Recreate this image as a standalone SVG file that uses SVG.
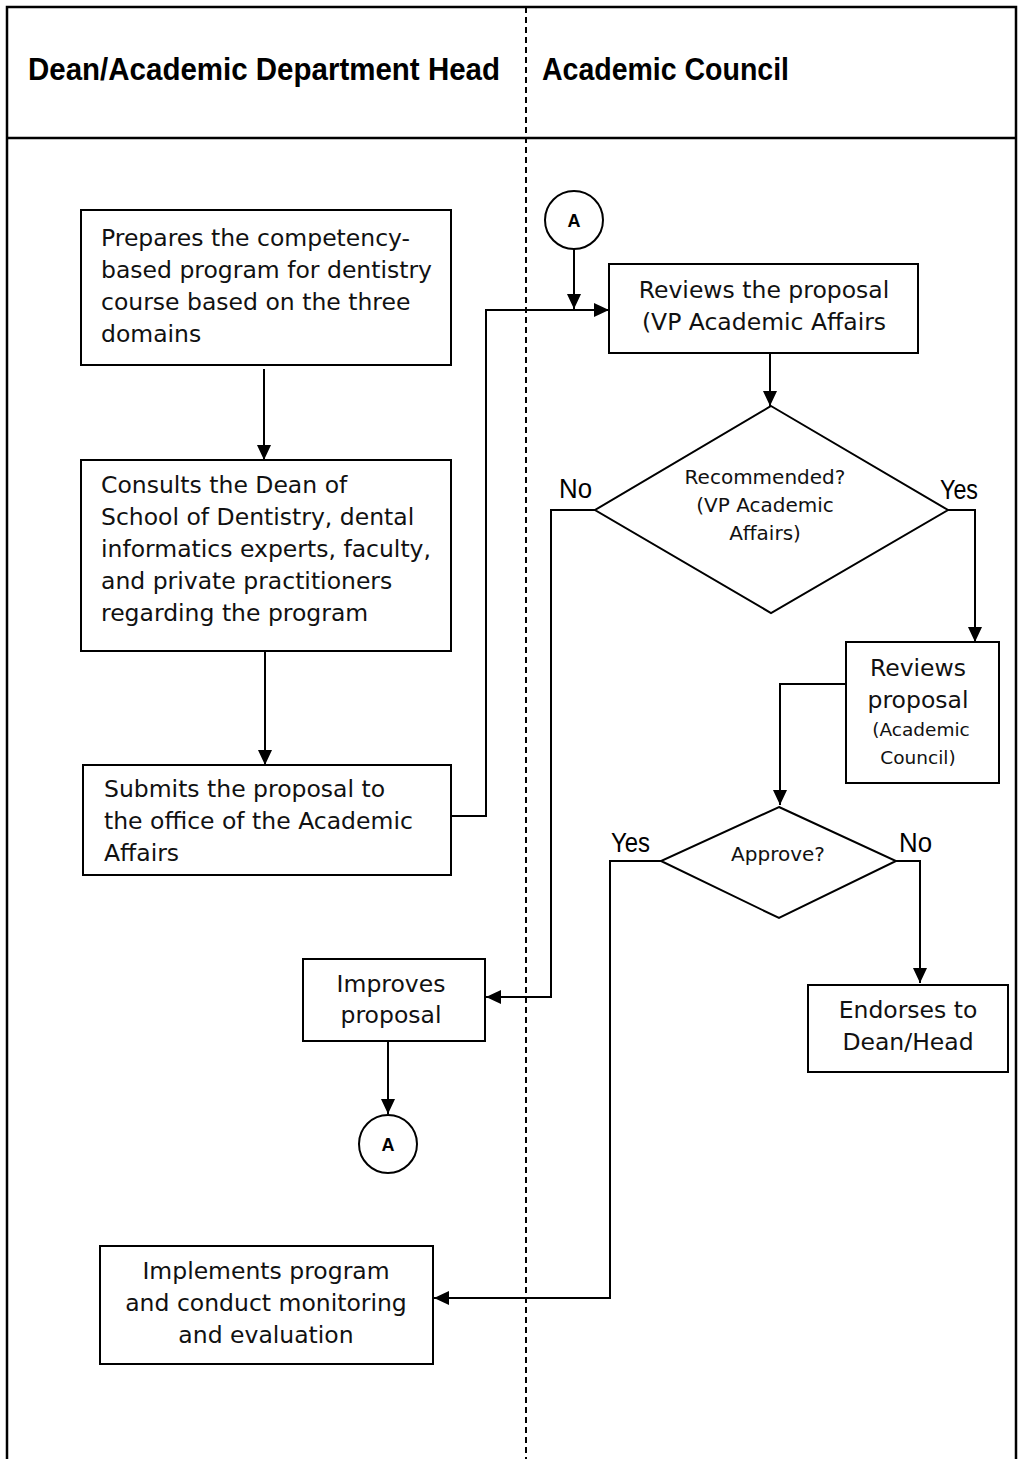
<svg xmlns="http://www.w3.org/2000/svg" width="1018" height="1459" viewBox="0 0 1018 1459">
<style>
.frame{fill:none;stroke:#000;stroke-width:2.5}
.box{fill:#fff;stroke:#000;stroke-width:2}
.conn{fill:none;stroke:#000;stroke-width:2}
.t{font-family:"DejaVu Sans",Verdana,sans-serif;font-size:23.5px;fill:#111}
.ts{font-family:"DejaVu Sans",Verdana,sans-serif;font-size:20px;fill:#111}
.c{text-anchor:middle}
.h{font-family:"Liberation Sans",Arial,sans-serif;font-weight:bold;font-size:30.5px;fill:#000}
.lbl{font-family:"Liberation Sans",Arial,sans-serif;font-size:27px;fill:#000}
.ca{font-family:"Liberation Sans",Arial,sans-serif;font-weight:bold;font-size:18px;fill:#000;text-anchor:middle}
</style>
<defs>
<marker id="ah" markerUnits="userSpaceOnUse" markerWidth="15" markerHeight="14" refX="15" refY="7" orient="auto">
<path d="M0,0 L15,7 L0,14 z" fill="#000"/>
</marker>
</defs>
<rect width="1018" height="1459" fill="#fff"/>
<g id="lanes">
<path class="frame" d="M7,1459 V7 H1016 V1459"/>
<line class="frame" x1="7" y1="138" x2="1016" y2="138"/>
<line x1="526" y1="7" x2="526" y2="1459" stroke="#000" stroke-width="2" stroke-dasharray="6 4"/>
<text class="h" x="28" y="80" textLength="472" lengthAdjust="spacingAndGlyphs">Dean/Academic Department Head</text>
<text class="h" x="542" y="80" textLength="247" lengthAdjust="spacingAndGlyphs">Academic Council</text>
</g>
<g id="connectors">
<line class="conn" x1="264" y1="369" x2="264" y2="460" marker-end="url(#ah)"/>
<line class="conn" x1="265" y1="652" x2="265" y2="765" marker-end="url(#ah)"/>
<path class="conn" d="M451,816 H486 V310 H609" marker-end="url(#ah)"/>
<line class="conn" x1="574" y1="249" x2="574" y2="309" marker-end="url(#ah)"/>
<line class="conn" x1="770" y1="353" x2="770" y2="406" marker-end="url(#ah)"/>
<path class="conn" d="M595,510 H551 V997 H486" marker-end="url(#ah)"/>
<path class="conn" d="M948,510 H975 V642" marker-end="url(#ah)"/>
<path class="conn" d="M846,684 H780 V805" marker-end="url(#ah)"/>
<path class="conn" d="M661,861 H610 V1298 H434" marker-end="url(#ah)"/>
<path class="conn" d="M896,861 H920 V983" marker-end="url(#ah)"/>
<line class="conn" x1="388" y1="1041" x2="388" y2="1114" marker-end="url(#ah)"/>
</g>
<g id="n1">
<rect class="box" x="81" y="210" width="370" height="155"/>
<text class="t" x="101" y="246">Prepares the competency-</text>
<text class="t" x="101" y="278">based program for dentistry</text>
<text class="t" x="101" y="310">course based on the three</text>
<text class="t" x="101" y="342">domains</text>
</g>
<g id="n2">
<rect class="box" x="81" y="460" width="370" height="191"/>
<text class="t" x="101" y="493">Consults the Dean of</text>
<text class="t" x="101" y="525">School of Dentistry, dental</text>
<text class="t" x="101" y="557">informatics experts, faculty,</text>
<text class="t" x="101" y="589">and private practitioners</text>
<text class="t" x="101" y="621">regarding the program</text>
</g>
<g id="n3">
<rect class="box" x="83" y="765" width="368" height="110"/>
<text class="t" x="104" y="797">Submits the proposal to</text>
<text class="t" x="104" y="829">the office of the Academic</text>
<text class="t" x="104" y="861">Affairs</text>
</g>
<g id="a1">
<circle class="box" cx="574" cy="220" r="29"/>
<text class="ca" x="574" y="226.5">A</text>
</g>
<g id="n4">
<rect class="box" x="609" y="264" width="309" height="89"/>
<text class="t c" x="764" y="298">Reviews the proposal</text>
<text class="t c" x="764" y="330">(VP Academic Affairs</text>
</g>
<g id="d1">
<polygon class="box" points="771,406 948,510 771,613 595,510"/>
<text class="ts c" x="765" y="484">Recommended?</text>
<text class="ts c" x="765" y="512">(VP Academic</text>
<text class="ts c" x="765" y="540">Affairs)</text>
<text class="lbl" x="559" y="498" textLength="33" lengthAdjust="spacingAndGlyphs">No</text>
<text class="lbl" x="940" y="499" textLength="38" lengthAdjust="spacingAndGlyphs">Yes</text>
</g>
<g id="n5">
<rect class="box" x="846" y="642" width="153" height="141"/>
<text class="t c" x="918" y="676">Reviews</text>
<text class="t c" x="918" y="708">proposal</text>
<text class="ts c" x="921" y="736" style="font-size:18.5px">(Academic</text>
<text class="ts c" x="918" y="764" style="font-size:18.5px">Council)</text>
</g>
<g id="d2">
<polygon class="box" points="779,807 896,861 779,918 661,861"/>
<text class="ts c" x="778" y="861">Approve?</text>
<text class="lbl" x="611" y="852" textLength="39" lengthAdjust="spacingAndGlyphs">Yes</text>
<text class="lbl" x="899" y="852" textLength="33" lengthAdjust="spacingAndGlyphs">No</text>
</g>
<g id="n6">
<rect class="box" x="808" y="985" width="200" height="87"/>
<text class="t c" x="908" y="1018">Endorses to</text>
<text class="t c" x="908" y="1050">Dean/Head</text>
</g>
<g id="n7">
<rect class="box" x="303" y="959" width="182" height="82"/>
<text class="t c" x="391" y="992">Improves</text>
<text class="t c" x="391" y="1023">proposal</text>
</g>
<g id="a2">
<circle class="box" cx="388" cy="1144" r="29"/>
<text class="ca" x="388" y="1150.5">A</text>
</g>
<g id="n8">
<rect class="box" x="100" y="1246" width="333" height="118"/>
<text class="t c" x="266" y="1279">Implements program</text>
<text class="t c" x="266" y="1311">and conduct monitoring</text>
<text class="t c" x="266" y="1343">and evaluation</text>
</g>
</svg>
